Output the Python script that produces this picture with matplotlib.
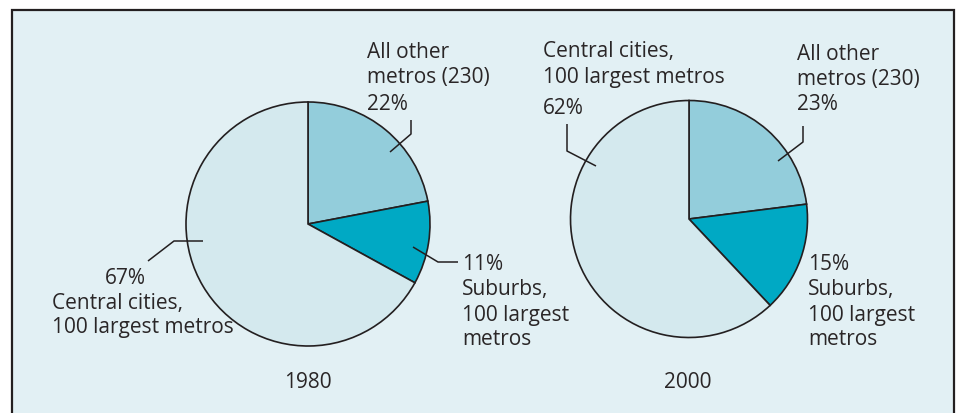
import numpy as np
import matplotlib.pyplot as plt

# shares of population, in drawing order (clockwise from 12 o'clock)
groups = ['All other metros (230)', 'Suburbs, 100 largest metros', 'Central cities, 100 largest metros']
share_1980 = [22, 11, 67]
share_2000 = [23, 15, 62]
years = ['1980', '2000']
colors = ['#93cddb', '#00a9c4', '#d4e9ee']

W, H = 958, 414
fig = plt.figure(figsize=(W / 100, H / 100), dpi=100)
fig.patch.set_facecolor('white')
ax = fig.add_axes([0, 0, 1, 1])

def Y(y):
    return H - y

font = dict(family=['Open Sans', 'DejaVu Sans'], fontsize=15, color='#2a2627')
lc = '#231f20'

# background panel
ax.add_patch(plt.Rectangle((12, Y(420)), 942, 409, facecolor='#e2f0f4',
                           edgecolor=lc, lw=1.6, zorder=0))

pies = [(share_1980, (308, Y(225)), 122), (share_2000, (689, Y(220)), 118.5)]
for vals, c, r in pies:
    ax.pie(vals, colors=colors, startangle=90, counterclock=False,
           center=c, radius=r,
           wedgeprops=dict(edgecolor=lc, linewidth=1.2))

def leader(pts):
    xs = [p[0] for p in pts]
    ys = [Y(p[1]) for p in pts]
    ax.plot(xs, ys, color=lc, lw=1.1, solid_capstyle='butt')

def label(x, y, s, ha='left'):
    ax.text(x, Y(y), s, ha=ha, va='center', **font)

# 1980 labels
label(367, 52, 'All other')
label(367, 78, 'metros (230)')
label(367, 104, '%d%%' % share_1980[0])
leader([(411, 121), (411, 135), (390, 153)])

label(462, 265, '%d%%' % share_1980[1])
label(462, 290, 'Suburbs,')
label(462, 315, '100 largest')
label(462, 340, 'metros')
leader([(413, 248), (438, 263), (458, 263)])

label(105, 278, '%d%%' % share_1980[2])
label(52, 303, 'Central cities,')
label(52, 328, '100 largest metros')
leader([(148, 262), (174, 242), (203, 242)])

# 2000 labels
label(543, 52, 'Central cities,')
label(543, 77, '100 largest metros')
label(543, 108, '%d%%' % share_2000[2])
leader([(567, 125), (567, 152), (596, 167)])

label(797, 55, 'All other')
label(797, 80, 'metros (230)')
label(797, 105, '%d%%' % share_2000[0])
leader([(803, 127), (803, 143), (778, 162)])

label(808, 265, '%d%%' % share_2000[1])
label(808, 290, 'Suburbs,')
label(808, 315, '100 largest')
label(808, 340, 'metros')

# year captions
label(308, 383, years[0], ha='center')
label(688, 383, years[1], ha='center')

ax.set_xlim(0, W)
ax.set_ylim(0, H)
ax.set_aspect('equal')
ax.axis('off')
plt.savefig('out.png', dpi=100)
